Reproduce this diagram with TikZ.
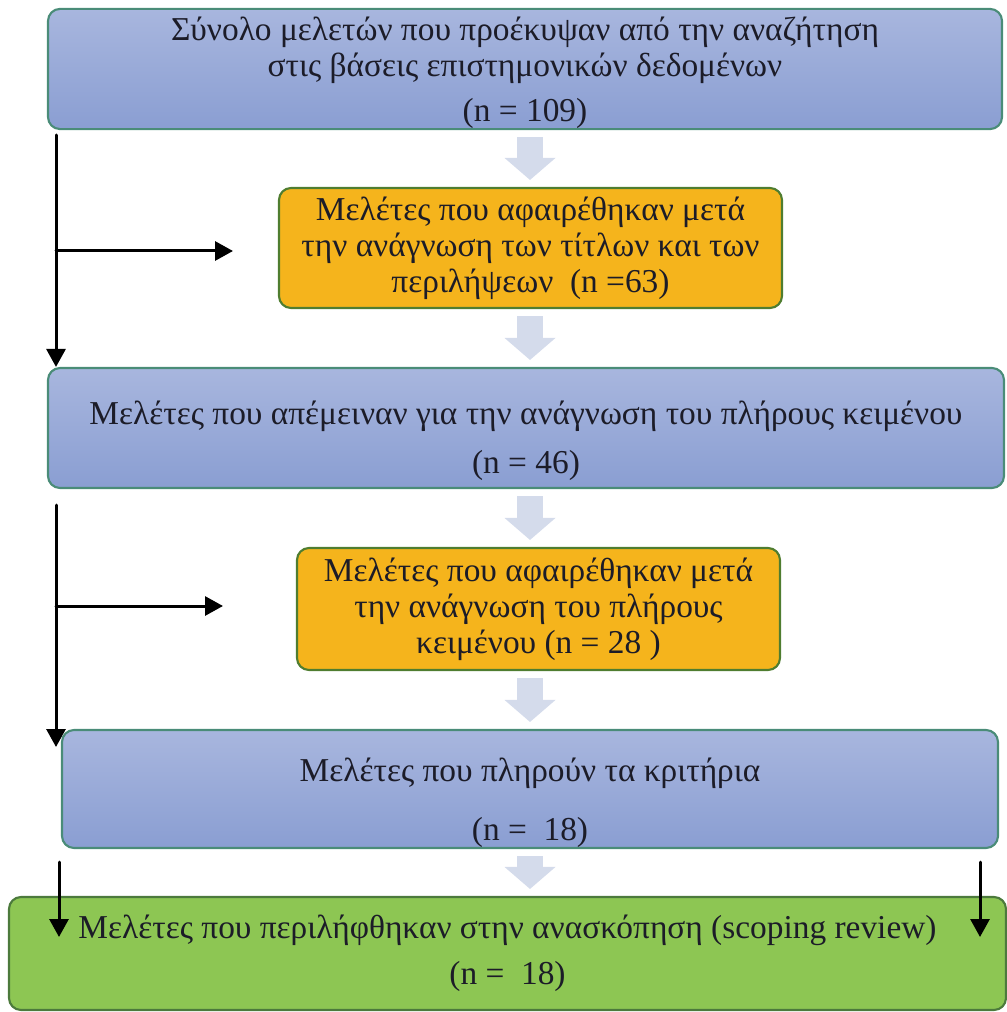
\documentclass[tikz,border=0pt]{standalone}
\usepackage{fontspec}
\setmainfont{Liberation Serif}
\usepackage{xcolor}
\usepackage{tikz}
\usetikzlibrary{arrows.meta,positioning,calc}
\definecolor{boxtop}{HTML}{A8B6DE}
\definecolor{boxbot}{HTML}{8A9ED2}
\definecolor{boxrim}{HTML}{4A8C78}
\definecolor{dropfill}{HTML}{F5B41C}
\definecolor{droprim}{HTML}{4F7D30}
\definecolor{finalfill}{HTML}{8DC653}
\definecolor{finalrim}{HTML}{4C7A3C}
\definecolor{paleflow}{HTML}{D4DBEB}
\definecolor{ink}{HTML}{1C1C28}
\newcommand{\lifttext}[1]{\rule{0pt}{#1}}
\tikzset{
    every picture/.style={line cap=round,line join=round},
    stagebox/.style={draw=boxrim,top color=boxtop,bottom color=boxbot,line width=1.2pt,
      rounded corners=2.4mm,inner sep=0pt,text=ink,align=center,
      font=\fontsize{19}{20.5}\selectfont},
    dropbox/.style={stagebox,draw=droprim,fill=dropfill,top color=dropfill,bottom color=dropfill},
    finalbox/.style={stagebox,draw=finalrim,top color=finalfill,bottom color=finalfill},
    flowarrow/.style={-{Triangle[length=3.6mm,width=3.8mm]},draw=black,line width=0.6mm},
    blockarrow/.style={-{Triangle[length=4.4mm,width=10.2mm,line width=0pt]},draw=paleflow,
      line width=5.2mm,line cap=butt,shorten <=1.4mm,shorten >=1.4mm}
}

\begin{document}
\begin{tikzpicture}[x=0.2mm,y=-0.2mm]
  \useasboundingbox (0,0) rectangle (1006,1012);
  \node[stagebox,minimum width=190.8mm,minimum height=24mm] (s0) at (525,69)
    {\lifttext{6.3mm}Σύνολο μελετών που προέκυψαν από την αναζήτηση\\ στις βάσεις επιστημονικών δεδομένων\\[1.9mm] (n = 109)};
  \node[dropbox,minimum width=100.6mm,minimum height=24mm] (s1) at (530.5,248)
    {Μελέτες που αφαιρέθηκαν μετά\\ την ανάγνωση των τίτλων και των\\ περιλήψεων~ (n =63)};
  \node[stagebox,minimum width=191.2mm,minimum height=24mm] (s2) at (526,428)
    {\lifttext{9.8mm}Μελέτες που απέμειναν για την ανάγνωση του πλήρους κειμένου\\[2.5mm] (n = 46)};
  \node[dropbox,minimum width=96.6mm,minimum height=24.4mm] (s3) at (538.5,609)
    {Μελέτες που αφαιρέθηκαν μετά\\ την ανάγνωση του πλήρους\\ κειμένου (n = 28 )};
  \node[stagebox,minimum width=187.2mm,minimum height=23.6mm] (s4) at (530,789)
    {\lifttext{10.2mm}Μελέτες που πληρούν τα κριτήρια\\[4.5mm] (n =~ 18)};
  \node[finalbox,minimum width=199.4mm,minimum height=22.6mm] (s5) at (507.5,953.5)
    {Μελέτες που περιλήφθηκαν στην ανασκόπηση (scoping review)\\[2.1mm] (n =~ 18)};
  % main flow
  \coordinate (mid) at (530,0);
  \draw[blockarrow] (s0.south -| mid) -- (s1.north -| mid);
  \draw[blockarrow] (s1.south -| mid) -- (s2.north -| mid);
  \draw[blockarrow] (s2.south -| mid) -- (s3.north -| mid);
  \draw[blockarrow] (s3.south -| mid) -- (s4.north -| mid);
  \draw[blockarrow] (s4.south -| mid) -- (s5.north -| mid);
  % side arrows
  \coordinate (l0) at (56,135);
  \coordinate (l1) at (56,505);
  \coordinate (l1e) at (56,747);
  \coordinate (r0) at (233,251);
  \coordinate (r1) at (223,606);
  \draw[flowarrow] (l0) -- (l0 |- s2.north);
  \draw[flowarrow] (l0 |- r0) -- (r0);
  \draw[flowarrow] (l1) -- (l1e);
  \draw[flowarrow] (l1 |- r1) -- (r1);
  \coordinate (d0) at (59,862);
  \coordinate (d0e) at (59,937);
  \coordinate (d1) at (980,862);
  \coordinate (d1e) at (980,937);
  \draw[flowarrow] (d0) -- (d0e);
  \draw[flowarrow] (d1) -- (d1e);
\end{tikzpicture}
\end{document}
